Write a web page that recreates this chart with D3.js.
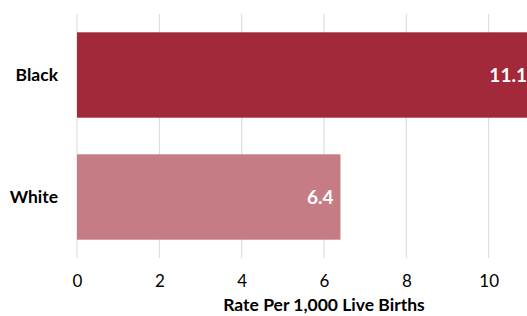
<!DOCTYPE html>
<html><head><meta charset="utf-8">
<script src="https://cdn.jsdelivr.net/npm/d3@7"></script>
<style>body{margin:0;background:#fff;overflow:hidden}</style>
</head><body>
<svg id="c" width="527" height="316"></svg>
<script>
const categories = ["Black", "White"];
const values = [11.1, 6.4];
const barColors = ["#A12939", "#C67C84"];
const tickValues = [0, 2, 4, 6, 8, 10];
const gridValues = [0, 2, 4, 6, 8, 10, 12];
const axisTitle = "Rate Per 1,000 Live Births";

const svg = d3.select("#c");
const font = "Lato, 'Open Sans', sans-serif";
const x = d3.scaleLinear().domain([0, 12]).range([77, 571]);
const y = d3.scaleBand().domain(categories).range([14, 258]).paddingInner(0.3).paddingOuter(0.15);

// gridlines
svg.append("g").selectAll("line").data(gridValues).join("line")
  .attr("x1", d => x(d)).attr("x2", d => x(d))
  .attr("y1", 14).attr("y2", 258)
  .attr("stroke", "#d9d9d9").attr("stroke-width", 1);

// bars
svg.append("g").selectAll("rect").data(categories).join("rect")
  .attr("x", x(0)).attr("y", d => y(d))
  .attr("width", (d, i) => x(values[i]) - x(0))
  .attr("height", y.bandwidth())
  .attr("fill", (d, i) => barColors[i]);

// value labels
svg.append("g").selectAll("text").data(categories).join("text")
  .attr("x", (d, i) => x(values[i]) - 7)
  .attr("y", d => y(d) + y.bandwidth() / 2)
  .attr("dy", "0.36em").attr("text-anchor", "end")
  .attr("fill", "#fff").attr("font-family", font).attr("font-weight", "bold").attr("font-size", 19)
  .text((d, i) => values[i].toFixed(1));

// category labels
svg.append("g").selectAll("text").data(categories).join("text")
  .attr("x", 58).attr("y", d => y(d) + y.bandwidth() / 2)
  .attr("dy", "0.36em").attr("text-anchor", "end")
  .attr("fill", "#000").attr("font-family", font).attr("font-weight", "bold").attr("font-size", 17.5)
  .text(d => d);

// x axis tick labels
const ax = d3.axisBottom(x).tickValues(tickValues).tickSize(0).tickPadding(0).tickFormat(d3.format("d"));
const g = svg.append("g").attr("transform", "translate(0,275)").call(ax);
g.select(".domain").remove();
g.selectAll("text").attr("font-family", font).attr("font-size", 17).attr("fill", "#000");

// axis title
svg.append("text").attr("x", (x(0) + x(12)) / 2).attr("y", 311)
  .attr("text-anchor", "middle").attr("font-family", font).attr("font-weight", "bold").attr("font-size", 17.5)
  .text(axisTitle);
</script>
</body></html>
